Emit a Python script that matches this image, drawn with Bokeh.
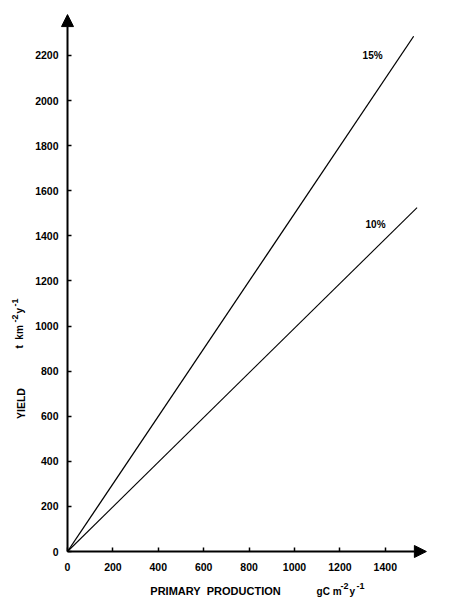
from bokeh.plotting import figure
from bokeh.models import Range1d, FixedTicker, Arrow, NormalHead, Label
from bokeh.embed import file_html
from bokeh.resources import INLINE

# ---- data ----
x_ticks = [0, 200, 400, 600, 800, 1000, 1200, 1400]
y_ticks = [0, 200, 400, 600, 800, 1000, 1200, 1400, 1600, 1800, 2000, 2200]
pp_15 = [0, 1525]          # primary production, gC m-2 y-1
yield_15 = [0, 2285]       # yield, t km-2 y-1 (15 % transfer)
pp_10 = [0, 1540]
yield_10 = [0, 1525]       # yield (10 % transfer)
line_labels = ["15%", "10%"]
label_x = [1344, 1357]
label_y = [2200, 1450]
x_axis_end = 1581
y_axis_end = 2381

FONT = "Liberation Sans"
NB = "\u00a0"

p = figure(width=440, height=604, output_backend="svg", toolbar_location=None,
           x_range=Range1d(-295.2, 1643.2), y_range=Range1d(-235.0, 2443.5),
           min_border=0)
p.outline_line_color = None
p.xgrid.grid_line_color = None
p.ygrid.grid_line_color = None
p.background_fill_color = "white"
p.border_fill_color = "white"

for ax, ticks, standoff in ((p.xaxis, x_ticks, 11), (p.yaxis, y_ticks, 9)):
    ax.fixed_location = 0
    ax.ticker = FixedTicker(ticks=ticks)
    ax.axis_line_color = None
    ax.major_tick_in = 4
    ax.major_tick_out = 0
    ax.major_tick_line_width = 1.5
    ax.minor_tick_line_color = None
    ax.major_label_text_font = FONT
    ax.major_label_text_font_style = "bold"
    ax.major_label_text_font_size = "10.5px"
    ax.major_label_text_color = "black"
    ax.major_label_standoff = standoff

p.line(pp_15, yield_15, line_color="black", line_width=1.3)
p.line(pp_10, yield_10, line_color="black", line_width=1.1)

for t, lx, ly in zip(line_labels, label_x, label_y):
    p.add_layout(Label(x=lx, y=ly, text=t, text_font=FONT, text_font_style="bold",
                       text_font_size="10px", text_align="center",
                       text_baseline="middle", text_color="black"))

# axes drawn as arrows from the origin
p.add_layout(Arrow(end=NormalHead(size=12, fill_color="black", line_color="black"),
                   x_start=0, y_start=0, x_end=x_axis_end, y_end=0,
                   line_width=2, line_color="black"))
p.add_layout(Arrow(end=NormalHead(size=12, fill_color="black", line_color="black"),
                   x_start=0, y_start=0, x_end=0, y_end=y_axis_end,
                   line_width=2, line_color="black"))


def txt(x, y, s, size="10px", align="left", angle=0.0, dx=0, dy=0):
    p.add_layout(Label(x=x, y=y, text=s, text_font=FONT, text_font_style="bold",
                       text_font_size=size, text_color="black", text_align=align,
                       text_baseline="middle", angle=angle, x_offset=dx, y_offset=dy))


# x-axis title with units
txt(652, -175, "PRIMARY" + NB + NB + "PRODUCTION", size="11px", align="center")
txt(1097, -177, "gC" + NB + "m", size="10px")
txt(1097, -177, "-2", size="9px", dx=24, dy=5)
txt(1097, -177, "y", size="10px", dx=33, dy=0)
txt(1097, -177, "-1", size="9px", dx=40, dy=5)

# y-axis title with units (reading upwards)
R = 1.5708
txt(-207, 656, "YIELD", size="10.5px", align="center", angle=R)
txt(-211, 900, "t" + NB + NB + "km", size="10px", angle=R)
txt(-211, 900, "-2", size="9px", angle=R, dx=-5, dy=26)
txt(-211, 900, "y", size="10px", angle=R, dx=0, dy=35)
txt(-211, 900, "-1", size="9px", angle=R, dx=-5, dy=42)

open("out.html", "w").write(file_html(p, INLINE))
